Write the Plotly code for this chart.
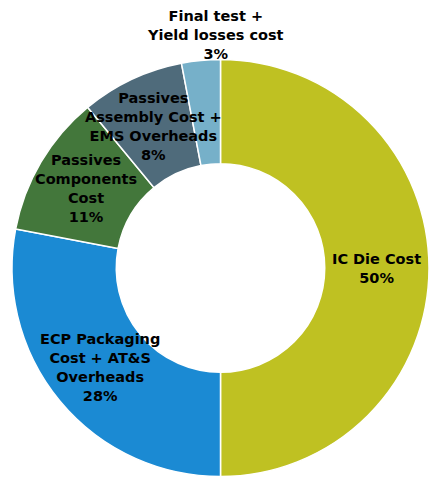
import math
import plotly.graph_objects as go

labels = [
    "IC Die Cost",
    "ECP Packaging<br>Cost + AT&S<br>Overheads",
    "Passives<br>Components<br>Cost",
    "Passives<br>Assembly Cost +<br>EMS Overheads",
    "Final test +<br>Yield losses cost",
]
values = [50, 28, 11, 8, 3]
colors = ["#BFC122", "#1B8AD3", "#43773B", "#4F6B7B", "#76B0C9"]

W, H = 429, 479
M = dict(l=12, r=0, t=58, b=1)
HOLE = 0.5
FONT = dict(family="DejaVu Sans", size=14.5, color="black", weight="bold")

fig = go.Figure(
    go.Pie(
        labels=labels,
        values=values,
        textinfo="none",
        hole=HOLE,
        sort=False,
        direction="clockwise",
        rotation=0,
        marker=dict(colors=colors, line=dict(color="white", width=1.5)),
        showlegend=False,
        hoverinfo="label+percent",
    )
)

# data labels: placed at the middle of each ring segment (drawn above all slices)
plot_w = W - M["l"] - M["r"]
plot_h = H - M["t"] - M["b"]
R = min(plot_w, plot_h) / 2
r_mid = R * (1 + HOLE) / 2
total = sum(values)
cum = 0
for lab, v in zip(labels, values):
    theta = 2 * math.pi * (cum + v / 2) / total
    cum += v
    text = f"{lab}<br>{v}%"
    if v / total < 0.05:
        # small slice: label sits above the ring
        fig.add_annotation(
            text=text, x=0.487, y=1.055, xref="paper", yref="paper",
            xanchor="center", yanchor="middle", showarrow=False, font=FONT,
        )
        continue
    fig.add_annotation(
        text=text,
        x=0.5 + r_mid * math.sin(theta) / plot_w,
        y=0.5 + r_mid * math.cos(theta) / plot_h,
        xref="paper", yref="paper",
        xanchor="center", yanchor="middle",
        showarrow=False, font=FONT,
    )

fig.update_layout(
    width=W,
    height=H,
    margin=M,
    paper_bgcolor="white",
    plot_bgcolor="white",
)

fig.write_html("out.html")
